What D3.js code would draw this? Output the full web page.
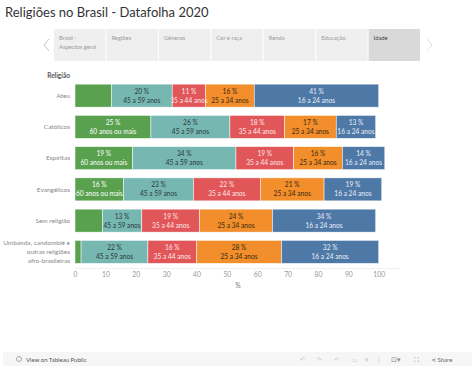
<!DOCTYPE html>
<html>
<head>
<meta charset="utf-8">
<script src="https://cdn.jsdelivr.net/npm/d3@7"></script>
<style>
  body { margin: 0; background: #fff; }
  svg { display: block; font-family: Lato, "Noto Sans", sans-serif; }
</style>
</head>
<body>
<div id="chart"></div>
<script>
// religion rows, top to bottom
const religioes = ["Ateu", "Católicos", "Espíritas", "Evangélicos", "Sem religião",
    "Umbanda, candomblé e outras religiões afro-brasileiras"];
const rowLabels = [["Ateu"], ["Católicos"], ["Espíritas"], ["Evangélicos"], ["Sem religião"],
    ["Umbanda, candomblé e", "outras religiões", "afro-brasileiras"]];

// age groups, stacked left to right
const faixas = ["60 anos ou mais", "45 a 59 anos", "35 a 44 anos", "25 a 34 anos", "16 a 24 anos"];
const coresFaixa = ["#59a14f", "#76b7b2", "#e15759", "#f28e2b", "#4e79a7"];
const corTexto = ["#ffffff", "#2b3a3a", "#ffe6e6", "#3a2a10", "#e8eef8"];

// percentages per religion, in the order of faixas
const v60mais = [12, 25, 19, 16, 9, 2];
const v45a59 = [20, 26, 34, 23, 13, 22];
const v35a44 = [11, 18, 19, 22, 19, 16];
const v25a34 = [16, 17, 16, 21, 24, 28];
const v16a24 = [41, 13, 14, 19, 34, 32];

const abas = [["Brasil -", "Aspectos geral"], ["Regiões"], ["Gêneros"], ["Cor e raça"],
    ["Renda"], ["Educação"], ["Idade"]];
const xTicks = [0, 10, 20, 30, 40, 50, 60, 70, 80, 90, 100];

const W = 474, H = 369;
const svg = d3.select("#chart").append("svg").attr("width", W).attr("height", H);

// title
svg.append("text")
    .attr("x", 5).attr("y", 17)
    .attr("font-size", 13).attr("fill", "#333")
    .text("Religiões no Brasil - Datafolha 2020");

// tab strip
const tabX = d3.scaleBand().domain(d3.range(abas.length)).range([54, 420]).paddingInner(0.02);
const tabs = svg.append("g");
abas.forEach((a, i) => {
    const sel = i === abas.length - 1;
    tabs.append("rect")
        .attr("x", tabX(i)).attr("y", 29)
        .attr("width", tabX.bandwidth()).attr("height", 32)
        .attr("fill", sel ? "#d9d9d9" : "#efefef");
    a.forEach((line, j) => {
        tabs.append("text")
            .attr("x", tabX(i) + 5).attr("y", 40 + j * 9)
            .attr("font-size", 5.8)
            .attr("fill", sel ? "#444" : "#9a9a9a")
            .text(line);
    });
});
// arrows
svg.append("path").attr("d", "M49,39 L44,45 L49,51").attr("fill", "none")
    .attr("stroke", "#c4c4c4").attr("stroke-width", 1);
svg.append("path").attr("d", "M427,39 L432,45 L427,51").attr("fill", "none")
    .attr("stroke", "#e0e0e0").attr("stroke-width", 1);

// scales
const x = d3.scaleLinear().domain([0, 107]).range([75, 400]);
const y = d3.scaleBand().domain(religioes).range([80, 267.5]).paddingInner(0.264).paddingOuter(0.132);

// stacked data
const tabela = religioes.map((r, i) => ({
    religiao: r,
    "60 anos ou mais": v60mais[i],
    "45 a 59 anos": v45a59[i],
    "35 a 44 anos": v35a44[i],
    "25 a 34 anos": v25a34[i],
    "16 a 24 anos": v16a24[i]
}));
const series = d3.stack().keys(faixas)(tabela);

// axis
const axis = svg.append("g")
    .attr("transform", `translate(0,${268})`)
    .call(d3.axisBottom(x).tickValues(xTicks).tickSize(0).tickPadding(4));
axis.select(".domain").attr("stroke", "#f0f0f0");
axis.selectAll("text").attr("font-size", 6.8).attr("fill", "#999").attr("font-family", "Lato");

svg.append("text").attr("x", 238).attr("y", 288)
    .attr("text-anchor", "middle").attr("font-size", 6.8).attr("fill", "#777").text("%");

// row header + labels
svg.append("text").attr("x", 70).attr("y", 78)
    .attr("text-anchor", "end").attr("font-size", 6.5).attr("font-weight", "bold")
    .attr("fill", "#555").text("Religião");

rowLabels.forEach((lines, i) => {
    const cy = y(religioes[i]) + y.bandwidth() / 2;
    lines.forEach((line, j) => {
        svg.append("text")
            .attr("x", 70)
            .attr("y", cy + (j - (lines.length - 1) / 2) * 9 + 2.3)
            .attr("text-anchor", "end").attr("font-size", 6.5).attr("fill", "#888")
            .text(line);
    });
});

// bars
const groups = svg.append("g").selectAll("g")
    .data(series)
    .join("g")
    .attr("fill", (d, i) => coresFaixa[i]);

groups.selectAll("rect")
    .data(d => d)
    .join("rect")
    .attr("x", d => x(d[0]))
    .attr("y", d => y(d.data.religiao))
    .attr("width", d => x(d[1]) - x(d[0]))
    .attr("height", y.bandwidth())
    .attr("stroke", "#fff")
    .attr("stroke-width", 0.5);

// segment labels
series.forEach((s, k) => {
    s.forEach(d => {
        const x0 = x(d[0]), x1 = x(d[1]);
        const cx = (x0 + x1) / 2;
        const cy = y(d.data.religiao) + y.bandwidth() / 2;
        const g = svg.append("g").attr("fill", corTexto[k])
            .attr("font-size", 6.6).attr("text-anchor", "middle");
        g.append("text").attr("x", cx).attr("y", cy - 2).text(d.data[s.key] + " %");
        const t = g.append("text").attr("x", cx).attr("y", cy + 7).text(s.key);
        // hide labels that do not fit, like Tableau does
        if (t.node().getComputedTextLength() > (x1 - x0) * 1.25) g.remove();
    });
});

// bottom toolbar
svg.append("rect").attr("x", 3).attr("y", 352).attr("width", 469).attr("height", 14).attr("fill", "#f6f6f6");
svg.append("circle").attr("cx", 19).attr("cy", 359).attr("r", 2.5)
    .attr("fill", "none").attr("stroke", "#888").attr("stroke-width", 0.7);
svg.append("text").attr("x", 26).attr("y", 361.5).attr("font-size", 6).attr("fill", "#555")
    .text("View on Tableau Public");
const icons = [["↶", 300], ["↷", 316], ["↶", 334], ["▭", 351], ["▾", 365], ["|", 378]];
icons.forEach(([c, px]) => {
    svg.append("text").attr("x", px).attr("y", 362).attr("font-size", 7).attr("fill", "#cfcfcf").text(c);
});
svg.append("text").attr("x", 391).attr("y", 362).attr("font-size", 7).attr("fill", "#888").text("⊡▾");
svg.append("text").attr("x", 414).attr("y", 362).attr("font-size", 7).attr("fill", "#888").text("⛶");
svg.append("text").attr("x", 431).attr("y", 362).attr("font-size", 6).attr("fill", "#666").text("⋖ Share");
</script>
</body>
</html>
